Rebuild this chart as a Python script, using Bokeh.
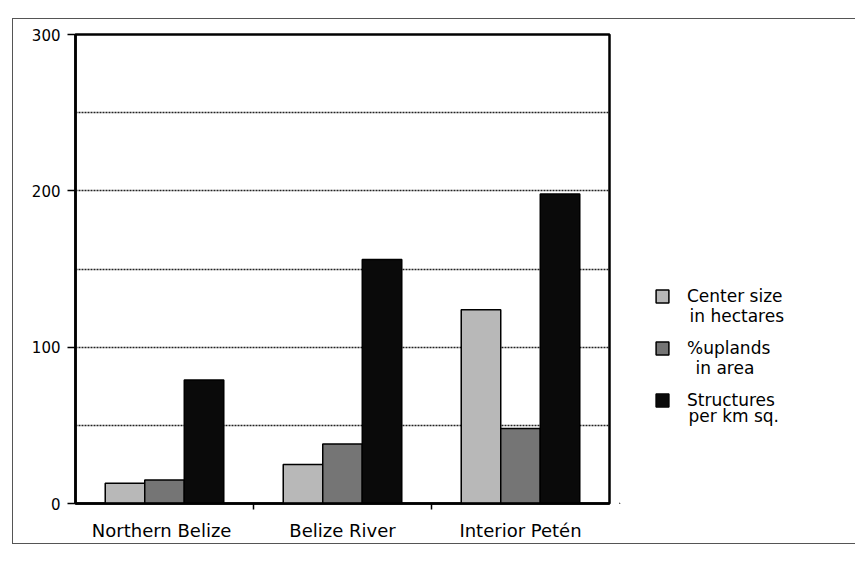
from bokeh.plotting import figure
from bokeh.layouts import row
from bokeh.models import Range1d, FixedTicker, Legend, LegendItem, Label
from bokeh.core.properties import value
from bokeh.embed import file_html
from bokeh.resources import INLINE

# ---- data ----
regions = ["Northern  Belize", "Belize River", "Interior Petén"]
center_size = [13, 25, 124]
uplands = [15, 38, 48]
structures = [79, 156, 198]
series_line1 = ["Center size", "%uplands", "Structures"]
series_line2 = ["in hectares", "in area", "per km sq."]
y_ticks = [0, 100, 200, 300]
grid_values = [50, 100, 150, 200, 250]

fills = ["#b8b8b8", "#757575", "#0a0a0a"]
FONT = "DejaVu Sans"

# ---- chart ----
H = 524
p = figure(width=606, height=H, output_backend="svg", toolbar_location=None,
           x_range=Range1d(0, len(regions)), y_range=Range1d(0, 300),
           min_border_left=62, min_border_right=10, min_border_top=15, min_border_bottom=40)

idx = list(range(len(regions)))
series = [center_size, uplands, structures]
offsets = [-0.222, 0.0, 0.222]
bar_w = 0.222
bars = []
for vals, off, col in zip(series, offsets, fills):
    bars.append(p.vbar(x=[i + 0.5 + off for i in idx], top=vals, bottom=0, width=bar_w,
                       fill_color=col, line_color="black", line_width=1.5))

p.xaxis.ticker = FixedTicker(ticks=[i + 0.5 for i in idx], minor_ticks=[i for i in idx[1:]])
p.xaxis.major_label_overrides = {i + 0.5: name for i, name in zip(idx, regions)}
p.xaxis.major_tick_out = 0
p.xaxis.major_tick_in = 0
p.xaxis.minor_tick_out = 6
p.xaxis.minor_tick_in = 0
p.xaxis.minor_tick_line_width = 1.5
p.xaxis.axis_line_width = 2.5
p.xaxis.major_label_standoff = 10
p.xaxis.major_label_text_font = FONT
p.xaxis.major_label_text_font_size = "18px"
p.xaxis.major_label_text_color = "black"

p.yaxis.ticker = FixedTicker(ticks=y_ticks)
p.yaxis.major_tick_out = 8
p.yaxis.major_tick_in = 0
p.yaxis.minor_tick_out = 0
p.yaxis.minor_tick_in = 0
p.yaxis.major_tick_line_width = 1.5
p.yaxis.axis_line_width = 2.5
p.yaxis.major_label_standoff = 7
p.yaxis.major_label_text_font = FONT
p.yaxis.major_label_text_font_size = "15px"
p.yaxis.major_label_text_color = "black"

p.xgrid.visible = False
p.ygrid.ticker = FixedTicker(ticks=grid_values)
p.ygrid.grid_line_color = "#222222"
p.ygrid.grid_line_width = 1.5
p.ygrid.grid_line_dash = "2 1"

p.outline_line_color = "black"
p.outline_line_width = 2.5
p.outline_line_alpha = 1.0

# ---- legend panel (its frame is aligned with the chart's frame by the row) ----
LW = 236
FH = 469  # frame height in pixels, so that q's data units are pixels
q = figure(width=LW, height=H, output_backend="svg", toolbar_location=None,
           x_range=Range1d(0, LW), y_range=Range1d(0, FH),
           x_axis_type=None, y_axis_type=None,
           min_border_left=0, min_border_right=0, min_border_top=0, min_border_bottom=0)
q.grid.visible = False
q.outline_line_color = None

# legend swatch proxies (placed far outside q's visible range, so only their legend swatch shows)
proxies = [q.vbar(x=[-500], top=[-400], bottom=-500, width=1, fill_color=col,
                  line_color="black", line_width=1.5) for col in fills]
legend = Legend(items=[LegendItem(label=value(lbl), renderers=[r]) for lbl, r in zip(series_line1, proxies)],
                location=(35, 93), padding=0, margin=0, border_line_color=None,
                background_fill_alpha=0, glyph_width=16, glyph_height=16,
                label_standoff=17, spacing=32, label_height=20,
                label_text_font=FONT, label_text_font_size="17px",
                label_text_color="black")
q.add_layout(legend)

line2_x = [70, 76, 69]
line2_y = [188, 136, 88]
for txt, lx, ly in zip(series_line2, line2_x, line2_y):
    q.add_layout(Label(x=lx, y=ly, text=txt, text_font=FONT, text_font_size="17px",
                       text_color="black", text_baseline="middle"))

layout = row(p, q, styles={"margin-left": "12px", "margin-top": "18px",
                           "border-left": "1px solid #555", "border-top": "1px solid #555",
                           "border-bottom": "1px solid #555"})

open("out.html", "w").write(file_html(layout, INLINE))
